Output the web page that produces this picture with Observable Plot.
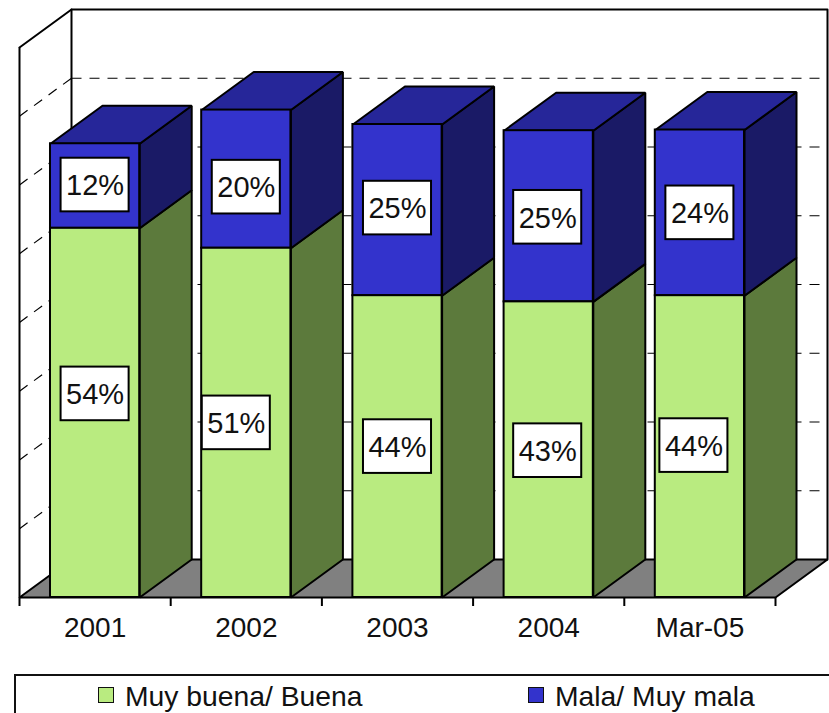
<!DOCTYPE html>
<html>
<head>
<meta charset="utf-8">
<script src="https://cdn.jsdelivr.net/npm/d3@7"></script>
<script src="https://cdn.jsdelivr.net/npm/@observablehq/plot@0.6"></script>
<style>
html,body{margin:0;padding:0;background:#fff;overflow:hidden}
body{width:829px;height:713px;font-family:"Liberation Sans",Arial,sans-serif}
svg{display:block}
#legend{position:relative;box-sizing:border-box;margin:4px 0 0 14px;height:39px;border-top:2px solid #111;border-left:2px solid #111;color:#111;font-size:28.3px}
#legend span{position:absolute;top:4px;white-space:nowrap;line-height:32px}
#legend i{position:absolute;top:11px;width:14px;height:14px;border:1.5px solid #111}
</style>
</head>
<body>
<div id="chart"></div>
<div id="legend"></div>
<script>
const categories = ["2001", "2002", "2003", "2004", "Mar-05"];
const buena = [53.7, 50.8, 43.9, 43, 43.9];
const mala = [12.3, 20.1, 24.9, 24.9, 24.1];
const gridValues = [10, 20, 30, 40, 50, 60, 70];
const seriesNames = ["Muy buena/ Buena", "Mala/ Muy mala"];

const green = {front: "#b9eb80", side: "#5c7a3c"};
const blue = {front: "#3333cc", side: "#1a1a66", top: "#262699"};
const floorColor = "#808080";

const depthX = 52 / 151.2, depthY = 38 / 6.875;   // oblique depth in data units
const halfBar = 0.295, yMax = 80;
const boxW = 0.225, boxH = 3.9;
// hand placement of the few labels the original moved off centre (px)
const nudge = {"0-0": [0, -19], "0-1": [0, -1], "1-0": [-10, 0], "4-0": [-6, -1], "1-1": [0, 8], "2-1": [0, -2], "3-0": [-1, 1], "3-1": [-1, 1]};

const poly = (pts, fill, o = {}) => Plot.line(pts, {
  x: d => d[0], y: d => d[1], curve: "linear-closed",
  fill, stroke: "#000", strokeWidth: 2, strokeLinejoin: "miter", ...o
});
const n = categories.length;
const marks = [];

// walls and floor
marks.push(Plot.line([[0, yMax], [depthX, yMax + depthY], [n + depthX, yMax + depthY], [n + depthX, depthY]],
  {x: d => d[0], y: d => d[1], stroke: "#000", strokeWidth: 2}));
marks.push(Plot.line([[depthX, depthY], [depthX, yMax + depthY]],
  {x: d => d[0], y: d => d[1], stroke: "#000", strokeWidth: 2}));
marks.push(Plot.link([0], {x1: () => 0, x2: () => 0, y1: () => 0, y2: () => yMax, stroke: "#000", strokeWidth: 2}));
marks.push(Plot.link(gridValues, {x1: () => 0, x2: () => depthX, y1: v => v, y2: v => v + depthY,
  stroke: "#000", strokeWidth: 1.2, strokeDasharray: "10 8"}));
marks.push(Plot.link(gridValues, {x1: () => depthX, x2: () => n + depthX, y1: v => v + depthY, y2: v => v + depthY,
  stroke: "#000", strokeWidth: 1.2, strokeDasharray: "10 8"}));
marks.push(poly([[0, 0], [depthX, depthY], [n + depthX, depthY], [n, 0]], floorColor));

// bars, left to right so that each one overlaps what lies behind it
categories.forEach((c, i) => {
  const x0 = i + 0.5 - halfBar, x1 = i + 0.5 + halfBar;
  const a = buena[i], b = a + mala[i];
  marks.push(poly([[x1, 0], [x1 + depthX, depthY], [x1 + depthX, a + depthY], [x1, a]], green.side));
  marks.push(poly([[x1, a], [x1 + depthX, a + depthY], [x1 + depthX, b + depthY], [x1, b]], blue.side));
  marks.push(poly([[x0, b], [x0 + depthX, b + depthY], [x1 + depthX, b + depthY], [x1, b]], blue.top));
  marks.push(Plot.rect([[a, b]], {x1: () => x0, x2: () => x1, y1: d => d[0], y2: d => d[1],
    fill: blue.front, stroke: "#000", strokeWidth: 2}));
  marks.push(Plot.rect([[0, a]], {x1: () => x0, x2: () => x1, y1: d => d[0], y2: d => d[1],
    fill: green.front, stroke: "#000", strokeWidth: 2}));
});

// value labels
categories.forEach((c, i) => {
  [[buena[i] / 2, buena[i]], [buena[i] + mala[i] / 2, mala[i]]].forEach(([mid, v], s) => {
    const [dx, dy] = nudge[i + "-" + s] || [0, 0];
    marks.push(Plot.rect([mid], {x1: () => i + 0.5 - boxW, x2: () => i + 0.5 + boxW, y1: m => m - boxH, y2: m => m + boxH,
      dx, dy, fill: "#fff", stroke: "#000", strokeWidth: 2}));
    marks.push(Plot.text([mid], {x: () => i + 0.5, y: m => m, text: () => Math.round(v) + "%", dx, dy: dy + 1,
      fontSize: 29, fill: "#111", fontFamily: "Liberation Sans, Arial, sans-serif"}));
  });
});

// axis
marks.push(Plot.axisX({ticks: d3.range(n + 1), tickSize: 9, tickFormat: () => "", label: null, stroke: "#000", strokeWidth: 2}));
marks.push(Plot.axisX({ticks: categories.map((c, i) => i + 0.5), tickSize: 0, tickPadding: 20,
  tickFormat: v => categories[v - 0.5], label: null, fontSize: 28, fill: "#111",
  fontFamily: "Liberation Sans, Arial, sans-serif"}));

const H = 670;
document.getElementById("chart").append(Plot.plot({
  width: 829, height: H, marginTop: 9, marginBottom: H - 597, marginLeft: 19, marginRight: 2,
  x: {domain: [0, n + depthX], axis: null},
  y: {domain: [0, yMax + depthY], axis: null},
  style: {background: "#fff", overflow: "visible"},
  marks
}));

const leg = document.getElementById("legend");
[[82, 109, green.front], [512, 539, blue.front]].forEach(([sx, tx, col], k) => {
  const sq = document.createElement("i");
  sq.style.left = sx + "px"; sq.style.background = col; leg.append(sq);
  const t = document.createElement("span");
  t.style.left = tx + "px"; t.textContent = seriesNames[k]; leg.append(t);
});
</script>
</body>
</html>
